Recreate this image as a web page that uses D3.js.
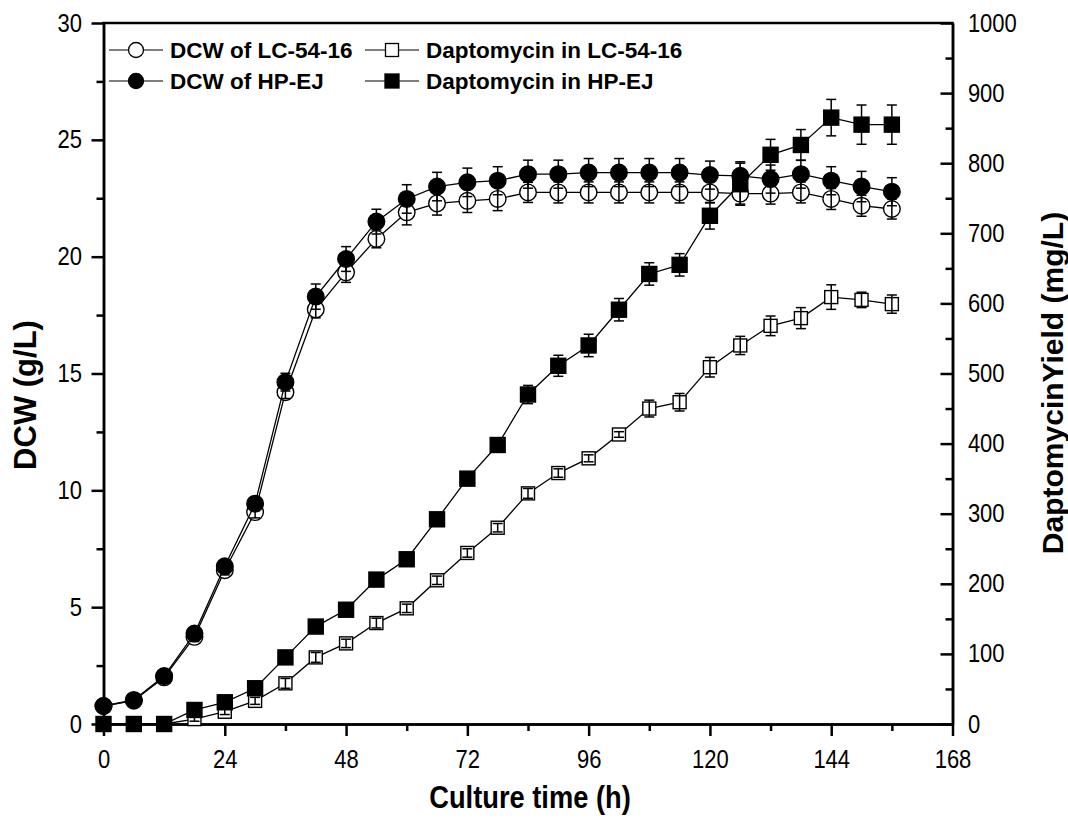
<!DOCTYPE html>
<html>
<head>
<meta charset="utf-8">
<script src="https://cdn.jsdelivr.net/npm/d3@7"></script>
<style>
  body { margin: 0; background: #fff; }
  .tick text { font-family: "Liberation Sans", Arial, sans-serif; font-size: 25px; fill: #000; }
  .axis path, .axis line { stroke: #000; stroke-width: 2.5; }
</style>
</head>
<body>
<div id="chart"></div>
<script>
// sampling times (h)
var time = [0,6,12,18,24,30,36,42,48,54,60,66,72,78,84,90,96,102,108,114,120,126,132,138,144,150,156];

// DCW (g/L)
var dcwLC    = [0.77,1.0,2.0,3.73,6.58,9.07,14.2,17.74,19.33,20.76,21.9,22.28,22.39,22.47,22.75,22.75,22.75,22.75,22.75,22.75,22.75,22.7,22.7,22.75,22.47,22.18,22.04];
var dcwLCErr = [0.1,0.1,0.15,0.2,0.2,0.25,0.27,0.36,0.43,0.38,0.54,0.5,0.5,0.5,0.43,0.45,0.45,0.45,0.45,0.45,0.45,0.45,0.45,0.45,0.45,0.45,0.43];
var dcwHP    = [0.77,1.03,2.05,3.87,6.75,9.43,14.63,18.29,19.9,21.5,22.47,23.0,23.18,23.25,23.53,23.53,23.6,23.6,23.6,23.6,23.49,23.46,23.32,23.53,23.25,23.0,22.78];
var dcwHPErr = [0.1,0.1,0.15,0.2,0.25,0.3,0.38,0.54,0.53,0.53,0.61,0.61,0.61,0.6,0.6,0.6,0.6,0.6,0.6,0.6,0.6,0.6,0.6,0.6,0.6,0.65,0.6];

// daptomycin (mg/L)
var dapLC    = [0,0,0,7,17.5,33,58,95,115,144,165,205,244,280,329,358,379,413,450,459,509,540,568,579,609,605,599];
var dapLCErr = [0,0,0,3,4,5,7,7,6,7,6,6,6,6,7,6,5,4,12,12.5,14,13,14,15,17.5,11,13];
var dapHP    = [0,0,0,20,31,51,95,139,163,206,235,292,350,398,470,511,540,591,642,655,725,770,812,826,865,855,855];
var dapHPErr = [0,0,0,3,4,5,5,6,6,6,6,6,8,8,13,15,16,16,16,16,19,30,22,22,26,28,28];

var xTicks = [0,24,48,72,96,120,144,168];
var xMinor = [12,36,60,84,108,132,156];
var yLTicks = [0,5,10,15,20,25,30];
var yLMinor = [2.5,7.5,12.5,17.5,22.5,27.5];
var yRTicks = [0,100,200,300,400,500,600,700,800,900,1000];
var yRMinor = [50,150,250,350,450,550,650,750,850,950];

const W = 1068, H = 830;
const pLeft = 103.5, pRight = 952.5, pTop = 23, pBottom = 724;
const squeeze = 0.88;   // tick labels in the original are a bit condensed

const svg = d3.select("#chart").append("svg")
  .attr("width", W).attr("height", H);

svg.append("rect").attr("width", W).attr("height", H).attr("fill", "#fff");

const x = d3.scaleLinear().domain([0,168]).range([pLeft, pRight]);
const yL = d3.scaleLinear().domain([0,30]).range([pBottom, pTop]);
const yR = d3.scaleLinear().domain([0,1000]).range([pBottom, pTop]);

// minor ticks first, majors on top
svg.append("g").attr("class","axis").attr("transform",`translate(0,${pBottom})`)
  .call(d3.axisBottom(x).tickValues(xMinor).tickSize(7).tickSizeOuter(0).tickFormat(""));
svg.append("g").attr("class","axis").attr("transform",`translate(0,${pBottom})`)
  .call(d3.axisBottom(x).tickValues(xTicks).tickSize(12).tickSizeOuter(0).tickPadding(14))
  .selectAll("text").attr("transform", `scale(${squeeze},1)`);

svg.append("g").attr("class","axis").attr("transform",`translate(${pLeft},0)`)
  .call(d3.axisLeft(yL).tickValues(yLMinor).tickSize(7).tickSizeOuter(0).tickFormat(""));
svg.append("g").attr("class","axis").attr("transform",`translate(${pLeft},0)`)
  .call(d3.axisLeft(yL).tickValues(yLTicks).tickSize(12).tickSizeOuter(0).tickPadding(12.5))
  .selectAll("text").attr("transform", `scale(${squeeze},1)`);

// right axis ticks point inward
svg.append("g").attr("class","axis").attr("transform",`translate(${pRight},0)`)
  .call(d3.axisRight(yR).tickValues(yRMinor).tickSize(-7).tickSizeOuter(0).tickFormat(""));
svg.append("g").attr("class","axis").attr("transform",`translate(${pRight},0)`)
  .call(d3.axisRight(yR).tickValues(yRTicks).tickSize(-12).tickSizeOuter(0).tickPadding(17.5).tickFormat(d3.format("d")))
  .selectAll("text").attr("transform", `scale(${squeeze},1)`);

// top frame
svg.append("line").attr("x1", pLeft - 1.25).attr("x2", pRight + 1.25)
  .attr("y1", pTop).attr("y2", pTop).attr("stroke", "#000").attr("stroke-width", 2.5);

function drawSeries(vals, errs, yScale, shape, filled) {
  const pts = time.map((t, i) => ({ t: t, v: vals[i], e: errs[i] }));
  const g = svg.append("g");
  g.append("path").datum(pts)
    .attr("fill", "none").attr("stroke", "#000").attr("stroke-width", 1.3)
    .attr("d", d3.line().x(d => x(d.t)).y(d => yScale(d.v)));

  if (shape === "circle") {
    g.selectAll("circle").data(pts).enter().append("circle")
      .attr("cx", d => x(d.t)).attr("cy", d => yScale(d.v)).attr("r", 8.3)
      .attr("fill", filled ? "#000" : "#fff").attr("stroke", "#000").attr("stroke-width", 1.4);
  } else {
    const s = filled ? 15 : 13;
    g.selectAll("rect").data(pts).enter().append("rect")
      .attr("x", d => x(d.t) - s/2).attr("y", d => yScale(d.v) - s/2)
      .attr("width", s).attr("height", s)
      .attr("fill", filled ? "#000" : "#fff").attr("stroke", "#000").attr("stroke-width", 1.4);
  }

  // error bars
  const eb = g.selectAll("g.err").data(pts.filter(d => d.e > 0)).enter().append("g")
    .attr("stroke", "#000").attr("stroke-width", 1.5);
  eb.append("line").attr("x1", d => x(d.t)).attr("x2", d => x(d.t))
    .attr("y1", d => yScale(d.v - d.e)).attr("y2", d => yScale(d.v + d.e));
  eb.append("line").attr("x1", d => x(d.t) - 5).attr("x2", d => x(d.t) + 5)
    .attr("y1", d => yScale(d.v + d.e)).attr("y2", d => yScale(d.v + d.e));
  eb.append("line").attr("x1", d => x(d.t) - 5).attr("x2", d => x(d.t) + 5)
    .attr("y1", d => yScale(d.v - d.e)).attr("y2", d => yScale(d.v - d.e));
}

drawSeries(dcwLC, dcwLCErr, yL, "circle", false);
drawSeries(dcwHP, dcwHPErr, yL, "circle", true);
drawSeries(dapLC, dapLCErr, yR, "square", false);
drawSeries(dapHP, dapHPErr, yR, "square", true);

// legend
var legendItems = [
  { label: "DCW of LC-54-16", shape: "circle", filled: false, lx: 109, ly: 50 },
  { label: "DCW of HP-EJ", shape: "circle", filled: true, lx: 109, ly: 81 },
  { label: "Daptomycin in LC-54-16", shape: "square", filled: false, lx: 365, ly: 50 },
  { label: "Daptomycin in HP-EJ", shape: "square", filled: true, lx: 365, ly: 81 }
];
legendItems.forEach(d => {
  const g = svg.append("g").attr("transform", `translate(${d.lx},${d.ly})`);
  g.append("line").attr("x1", 0).attr("x2", 54).attr("y1", 0).attr("y2", 0)
    .attr("stroke", "#000").attr("stroke-width", 1.2);
  if (d.shape === "circle") {
    g.append("circle").attr("cx", 27).attr("cy", 0).attr("r", 7.5)
      .attr("fill", d.filled ? "#000" : "#fff").attr("stroke", "#000").attr("stroke-width", 1.3);
  } else {
    const s = d.filled ? 14 : 13;
    g.append("rect").attr("x", 27 - s/2).attr("y", -s/2).attr("width", s).attr("height", s)
      .attr("fill", d.filled ? "#000" : "#fff").attr("stroke", "#000").attr("stroke-width", 1.3);
  }
  g.append("text").attr("x", 61).attr("y", 0).attr("dy", "0.36em")
    .style("font-family", "'Liberation Sans', Arial, sans-serif")
    .style("font-weight", "bold").style("font-size", "22.5px")
    .text(d.label);
});

// axis titles
svg.append("text").attr("transform", "translate(530,808) scale(0.88,1)").attr("text-anchor", "middle")
  .style("font-family", "'Liberation Sans', Arial, sans-serif")
  .style("font-weight", "bold").style("font-size", "31px")
  .text("Culture time (h)");

svg.append("text").attr("transform", "translate(25,395) rotate(-90)")
  .attr("text-anchor", "middle").attr("dy", "0.36em")
  .style("font-family", "'Liberation Sans', Arial, sans-serif")
  .style("font-weight", "bold").style("font-size", "31px")
  .text("DCW (g/L)");

svg.append("text").attr("transform", "translate(1052,383) rotate(-90)")
  .attr("text-anchor", "middle").attr("dy", "0.36em")
  .style("font-family", "'Liberation Sans', Arial, sans-serif")
  .style("font-weight", "bold").style("font-size", "30px")
  .text("DaptomycinYield (mg/L)");
</script>
</body>
</html>
